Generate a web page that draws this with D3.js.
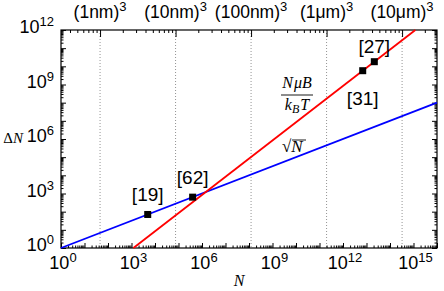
<!DOCTYPE html>
<html>
<head>
<meta charset="utf-8">
<script src="https://cdn.jsdelivr.net/npm/d3@7"></script>
<style>
body{margin:0;background:#fff;}
svg{display:block;font-family:"Liberation Sans",Arial,Helvetica,sans-serif;}
</style>
</head>
<body>
<svg id="chart" width="444" height="291"></svg>
<script>
// data
const xDomain = [1, 1e16];          // N
const yDomain = [1, 1e12];          // delta N
const lengthDomain = [0.304, 2.9e4]; // top axis, cube edge in nm

const xLabelExp = [0, 3, 6, 9, 12, 15];
const yLabelExp = [0, 3, 6, 9, 12];
const topTicksL = [1, 10, 100, 1000, 10000];
const topLabels = ["(1nm)", "(10nm)", "(100nm)", "(1\u03bcm)", "(10\u03bcm)"];

// straight lines on log-log: two end points each
const sqrtLine = [[1, 1], [1e16, 1e8]];
const thermLine = [[1.2e3, 1], [1.2e15, 1e12]];

const refNames = ["[19]", "[62]", "[31]", "[27]"];
const refN = [4.9e3, 4.0e5, 6.9e12, 2.15e13];
const refDN = [70, 630, 5.75e9, 1.8e10];

// config
const margin = ({top: 30, right: 7, bottom: 43, left: 61});
const W = 444, H = 291;
const svg = d3.select("#chart");
const serif = "'Liberation Serif','Times New Roman',serif";

let x = d3.scaleLog().domain(xDomain).range([margin.left, W - margin.right]);
let y = d3.scaleLog().domain(yDomain).range([H - margin.bottom, margin.top]);
let xL = d3.scaleLog().domain(lengthDomain).range([margin.left, W - margin.right]);

function logTicks(domain){
    let major = [], minor = [];
    let lo = Math.floor(Math.log10(domain[0])), hi = Math.ceil(Math.log10(domain[1]));
    for (let e = lo; e <= hi; e++){
        for (let k = 1; k < 10; k++){
            let v = k * Math.pow(10, e);
            if (v < domain[0]*0.999 || v > domain[1]*1.001) continue;
            (k === 1 ? major : minor).push(v);
        }
    }
    return {major, minor};
}

// dotted guides at top length decades
svg.append("g").selectAll("line").data(topTicksL).join("line")
    .attr("x1", d => xL(d)).attr("x2", d => xL(d))
    .attr("y1", margin.top).attr("y2", H - margin.bottom)
    .attr("stroke", "#777").attr("stroke-width", 0.8)
    .attr("stroke-dasharray", "1,2");

// ticks
function drawAxis(axisFn, scale, domain, transform, major, minor){
    let t = logTicks(domain);
    svg.append("g").attr("transform", transform)
        .call(axisFn(scale).tickValues(t.minor).tickSize(-minor).tickFormat(""))
        .call(g => g.select(".domain").remove());
    svg.append("g").attr("transform", transform)
        .call(axisFn(scale).tickValues(t.major).tickSize(-major).tickFormat(""))
        .call(g => g.select(".domain").remove());
}
drawAxis(d3.axisBottom, x, xDomain, `translate(0,${H - margin.bottom})`, 5, 2.5);
drawAxis(d3.axisLeft, y, yDomain, `translate(${margin.left},0)`, 5, 2.5);
drawAxis(d3.axisRight, y, yDomain, `translate(${W - margin.right},0)`, 5, 2.5);
drawAxis(d3.axisTop, xL, lengthDomain, `translate(0,${margin.top})`, 7, 3);

// frame
svg.append("rect")
    .attr("x", margin.left).attr("y", margin.top)
    .attr("width", W - margin.left - margin.right)
    .attr("height", H - margin.top - margin.bottom)
    .attr("fill", "none").attr("stroke", "#000").attr("stroke-width", 1.2);

// tick labels
function powLabel(g, px, py, exp, anchor){
    let t = g.append("text").attr("x", px).attr("y", py)
        .attr("text-anchor", anchor).attr("font-size", 18);
    t.append("tspan").text("10");
    t.append("tspan").attr("dy", -7).attr("font-size", 13).text(exp);
}
let gl = svg.append("g");
xLabelExp.forEach(e => powLabel(gl, x(Math.pow(10, e)) + 2, 269, e, "middle"));
yLabelExp.forEach(e => powLabel(gl, 54, y(Math.pow(10, e)) + 3, e, "end"));

topTicksL.forEach((d, i) => {
    let t = gl.append("text").attr("x", xL(d)).attr("y", 18)
        .attr("text-anchor", "middle").attr("font-size", 17.5);
    t.append("tspan").text(topLabels[i]);
    t.append("tspan").attr("dy", -7).attr("font-size", 13).text("3");
});

// axis titles
svg.append("text").attr("x", 239).attr("y", 286)
    .attr("text-anchor", "middle")
    .style("font-family", serif)
    .style("font-style", "italic").attr("font-size", 16).text("N");
let ty = svg.append("text").attr("x", 23).attr("y", y(1e6) + 4)
    .attr("text-anchor", "end")
    .style("font-family", serif)
    .attr("font-size", 15);
ty.append("tspan").text("\u0394");
ty.append("tspan").style("font-style", "italic").text("N");

// lines
const lineGen = d3.line().x(d => x(d[0])).y(d => y(d[1]));
svg.append("path").datum(sqrtLine).attr("d", lineGen)
    .attr("fill", "none").attr("stroke", "#0000ff").attr("stroke-width", 1.8);
svg.append("path").datum(thermLine).attr("d", lineGen)
    .attr("fill", "none").attr("stroke", "#ff0000").attr("stroke-width", 1.8);

// reference points
let refs = refNames.map((n, i) => ({name: n, N: refN[i], dN: refDN[i]}));
const labelOff = {"[19]": [0, -13], "[62]": [0, -13], "[31]": [0, 34], "[27]": [0, -9]};
let sz = 7;
svg.append("g").selectAll("rect").data(refs).join("rect")
    .attr("x", d => x(d.N) - sz/2).attr("y", d => y(d.dN) - sz/2)
    .attr("width", sz).attr("height", sz).attr("fill", "#000");
svg.append("g").selectAll("text").data(refs).join("text")
    .attr("x", d => x(d.N) + labelOff[d.name][0])
    .attr("y", d => y(d.dN) + labelOff[d.name][1])
    .attr("text-anchor", "middle").attr("font-size", 19)
    .text(d => d.name);

// formula labels
let fx = 297;
let num = svg.append("text").attr("x", fx).attr("y", 88).attr("text-anchor", "middle")
    .style("font-family", serif).style("font-style", "italic").attr("font-size", 16);
num.append("tspan").text("N");
num.append("tspan").attr("dx", 1).text("\u03bcB");
svg.append("line").attr("x1", 281).attr("x2", 313).attr("y1", 95).attr("y2", 95)
    .attr("stroke", "#000").attr("stroke-width", 0.9);
let den = svg.append("text").attr("x", fx).attr("y", 110).attr("text-anchor", "middle")
    .style("font-family", serif).style("font-style", "italic").attr("font-size", 16);
den.append("tspan").text("k");
den.append("tspan").attr("dy", 3).attr("font-size", 12).text("B");
den.append("tspan").attr("dy", -3).attr("dx", 1).text("T");

let rt = svg.append("text").attr("x", 282).attr("y", 152)
    .style("font-family", serif).attr("font-size", 17);
rt.append("tspan").text("\u221a");
rt.append("tspan").style("font-style", "italic").text("N");
svg.append("line").attr("x1", 292).attr("x2", 306).attr("y1", 140).attr("y2", 140)
    .attr("stroke", "#000").attr("stroke-width", 0.9);
</script>
</body>
</html>
